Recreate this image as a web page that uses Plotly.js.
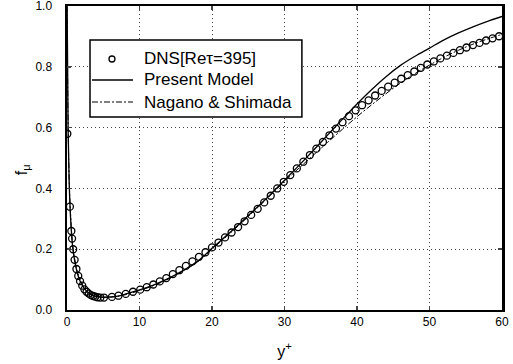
<!DOCTYPE html>
<html>
<head>
<meta charset="utf-8">
<script src="https://cdn.plot.ly/plotly-3.0.1.min.js"></script>
<style>html,body{margin:0;padding:0;background:#fff;}#chart{width:513px;height:364px;}</style>
</head>
<body>
<div id="chart"></div>
<script>
// DNS data (Re_tau = 395)
const dnsX = [0.05,0.4,0.6,0.7,0.85,1.05,1.3,1.55,1.8,2.1,2.4,2.7,3.0,3.3,3.6,3.9,4.2,4.6,5.1,6.2,7.1,8.1,9.1,10.1,11.0,11.9,12.8,13.7,14.6,15.5,16.4,17.3,18.2,19.1,20.0,20.9,21.8,22.7,23.6,24.5,25.4,26.3,27.2,28.1,29.0,29.9,30.8,31.7,32.6,33.5,34.4,35.3,36.2,37.1,38.0,38.9,39.8,40.7,41.6,42.5,43.4,44.3,45.2,46.1,47.0,47.9,48.8,49.7,50.6,51.5,52.4,53.3,54.2,55.1,56.0,56.9,57.8,58.7,59.6];
const dnsY = [0.58,0.34,0.26,0.235,0.2,0.165,0.135,0.112,0.095,0.08,0.068,0.06,0.054,0.049,0.046,0.044,0.042,0.041,0.041,0.043,0.047,0.053,0.06,0.067,0.075,0.084,0.094,0.105,0.118,0.131,0.145,0.16,0.175,0.19,0.206,0.222,0.239,0.255,0.273,0.292,0.313,0.333,0.354,0.376,0.4,0.422,0.444,0.466,0.488,0.51,0.531,0.553,0.575,0.597,0.618,0.638,0.657,0.674,0.69,0.706,0.721,0.735,0.748,0.761,0.773,0.785,0.797,0.808,0.818,0.828,0.837,0.846,0.855,0.864,0.872,0.879,0.887,0.894,0.901];

// Present model
const presX = [0.02,0.15,0.3,0.5,0.75,1,1.5,2,2.5,3,3.5,4,4.5,5,6,7,8,10,12,14,16,18,20,22,24,26,28,30,32,34,36,38,40,42,44,46,48,50,52,54,56,58,60];
const presY = [1.0,0.6,0.42,0.3,0.215,0.17,0.115,0.085,0.067,0.056,0.049,0.045,0.043,0.042,0.043,0.046,0.052,0.066,0.083,0.104,0.13,0.16,0.203,0.245,0.288,0.333,0.379,0.427,0.476,0.526,0.577,0.628,0.678,0.725,0.768,0.805,0.835,0.862,0.889,0.912,0.932,0.95,0.966];

// Nagano & Shimada
const nsX = [0.02,0.15,0.3,0.5,0.75,1,1.5,2,2.5,3,3.5,4,4.5,5,6,7,8,10,12,14,16,18,20,22,24,26,28,30,32,34,36,38,40,42,44,46,48,50,52,54,56,58,60];
const nsY = [1.0,0.62,0.43,0.31,0.22,0.175,0.12,0.088,0.069,0.057,0.05,0.046,0.043,0.042,0.042,0.045,0.05,0.064,0.081,0.102,0.128,0.158,0.2,0.242,0.285,0.33,0.376,0.423,0.467,0.51,0.553,0.595,0.636,0.675,0.712,0.747,0.778,0.806,0.832,0.855,0.875,0.892,0.907];

const seriesNames = ['DNS[Re\u03C4=395]', 'Present Model', 'Nagano & Shimada'];
const xTicks = [0,10,20,30,40,50,60];
const yTicks = [0.0,0.2,0.4,0.6,0.8,1.0];

const FONT = 'Liberation Sans, Arial, sans-serif';

const traces = [
  {x: dnsX, y: dnsY, name: seriesNames[0], mode: 'markers', type: 'scatter',
   marker: {symbol: 'circle-open', size: 7, color: '#000', line: {width: 1.3, color: '#000'}}},
  {x: presX, y: presY, name: seriesNames[1], mode: 'lines', type: 'scatter',
   line: {color: '#000', width: 1.3, shape: 'spline'}},
  {x: nsX, y: nsY, name: seriesNames[2], mode: 'lines', type: 'scatter',
   line: {color: '#000', width: 1, dash: '6px,2px,2px,2px', shape: 'spline'}}
];

// legend geometry (paper coords)
const legL = 0.0529, legR = 0.540, legB = 0.635, legT = 0.888;
const rowY = [0.8257, 0.7566, 0.6842];
const symL = 0.0575, symR = 0.1517, symC = 0.1034, textX = 0.1724;

const layout = {
  width: 513, height: 364,
  margin: {l: 67, r: 11, t: 6, b: 54},
  paper_bgcolor: '#fff', plot_bgcolor: '#fff',
  font: {family: FONT, color: '#000', size: 12},
  showlegend: false,
  xaxis: {range: [0, 60], tickvals: xTicks, ticktext: xTicks.map(String), ticks: 'inside', ticklen: 4, tickwidth: 1.5,
          showline: true, linewidth: 2, linecolor: '#000', mirror: 'ticks', ticklabeloverflow: 'allow',
          showgrid: true, gridcolor: '#444', griddash: '1px,3px', gridwidth: 1, zeroline: false,
          tickfont: {family: FONT, size: 12, color: '#000'},
          title: {text: 'y<sup>+</sup>', font: {family: FONT, size: 16, color: '#000'}, standoff: 17}},
  yaxis: {range: [0, 1.0005], tickvals: yTicks, ticktext: yTicks.map(v => v.toFixed(1)), ticks: 'inside', ticklen: 4, tickwidth: 1.5,
          showline: true, linewidth: 2.5, linecolor: '#000', mirror: 'ticks', ticklabeloverflow: 'allow',
          showgrid: true, gridcolor: '#444', griddash: '1px,3px', gridwidth: 1, zeroline: false,
          tickfont: {family: FONT, size: 12, color: '#000'}, ticklabelstandoff: 10},
  shapes: [
    {type: 'rect', xref: 'paper', yref: 'paper', x0: legL, x1: legR, y0: legB, y1: legT,
     line: {color: '#000', width: 1.5}, fillcolor: '#fff', layer: 'above'},
    {type: 'circle', xref: 'paper', yref: 'paper', xsizemode: 'pixel', ysizemode: 'pixel',
     xanchor: symC, yanchor: rowY[0], x0: -3, x1: 3, y0: -3, y1: 3,
     line: {color: '#000', width: 1.3}, fillcolor: 'rgba(0,0,0,0)', layer: 'above'},
    {type: 'line', xref: 'paper', yref: 'paper', x0: symL, x1: symR, y0: rowY[1], y1: rowY[1],
     line: {color: '#000', width: 1.3}, layer: 'above'},
    {type: 'line', xref: 'paper', yref: 'paper', x0: symL, x1: symR, y0: rowY[2], y1: rowY[2],
     line: {color: '#000', width: 1, dash: '6px,2px,2px,2px'}, layer: 'above'}
  ],
  annotations: [
    {text: seriesNames[0], xref: 'paper', yref: 'paper', x: textX, y: rowY[0], xanchor: 'left', yanchor: 'middle', showarrow: false, font: {family: FONT, size: 17, color: '#000'}},
    {text: seriesNames[1], xref: 'paper', yref: 'paper', x: textX, y: rowY[1], xanchor: 'left', yanchor: 'middle', showarrow: false, font: {family: FONT, size: 17, color: '#000'}},
    {text: seriesNames[2], xref: 'paper', yref: 'paper', x: textX, y: rowY[2], xanchor: 'left', yanchor: 'middle', showarrow: false, font: {family: FONT, size: 17, color: '#000'}},
    {text: 'f<sub>\u03BC</sub>', xref: 'paper', yref: 'paper', x: -0.1034, y: 0.46, xanchor: 'center', yanchor: 'middle', textangle: -90, showarrow: false, font: {family: FONT, size: 16, color: '#000'}}
  ]
};

Plotly.newPlot('chart', traces, layout, {displayModeBar: false, staticPlot: true});
</script>
</body>
</html>
